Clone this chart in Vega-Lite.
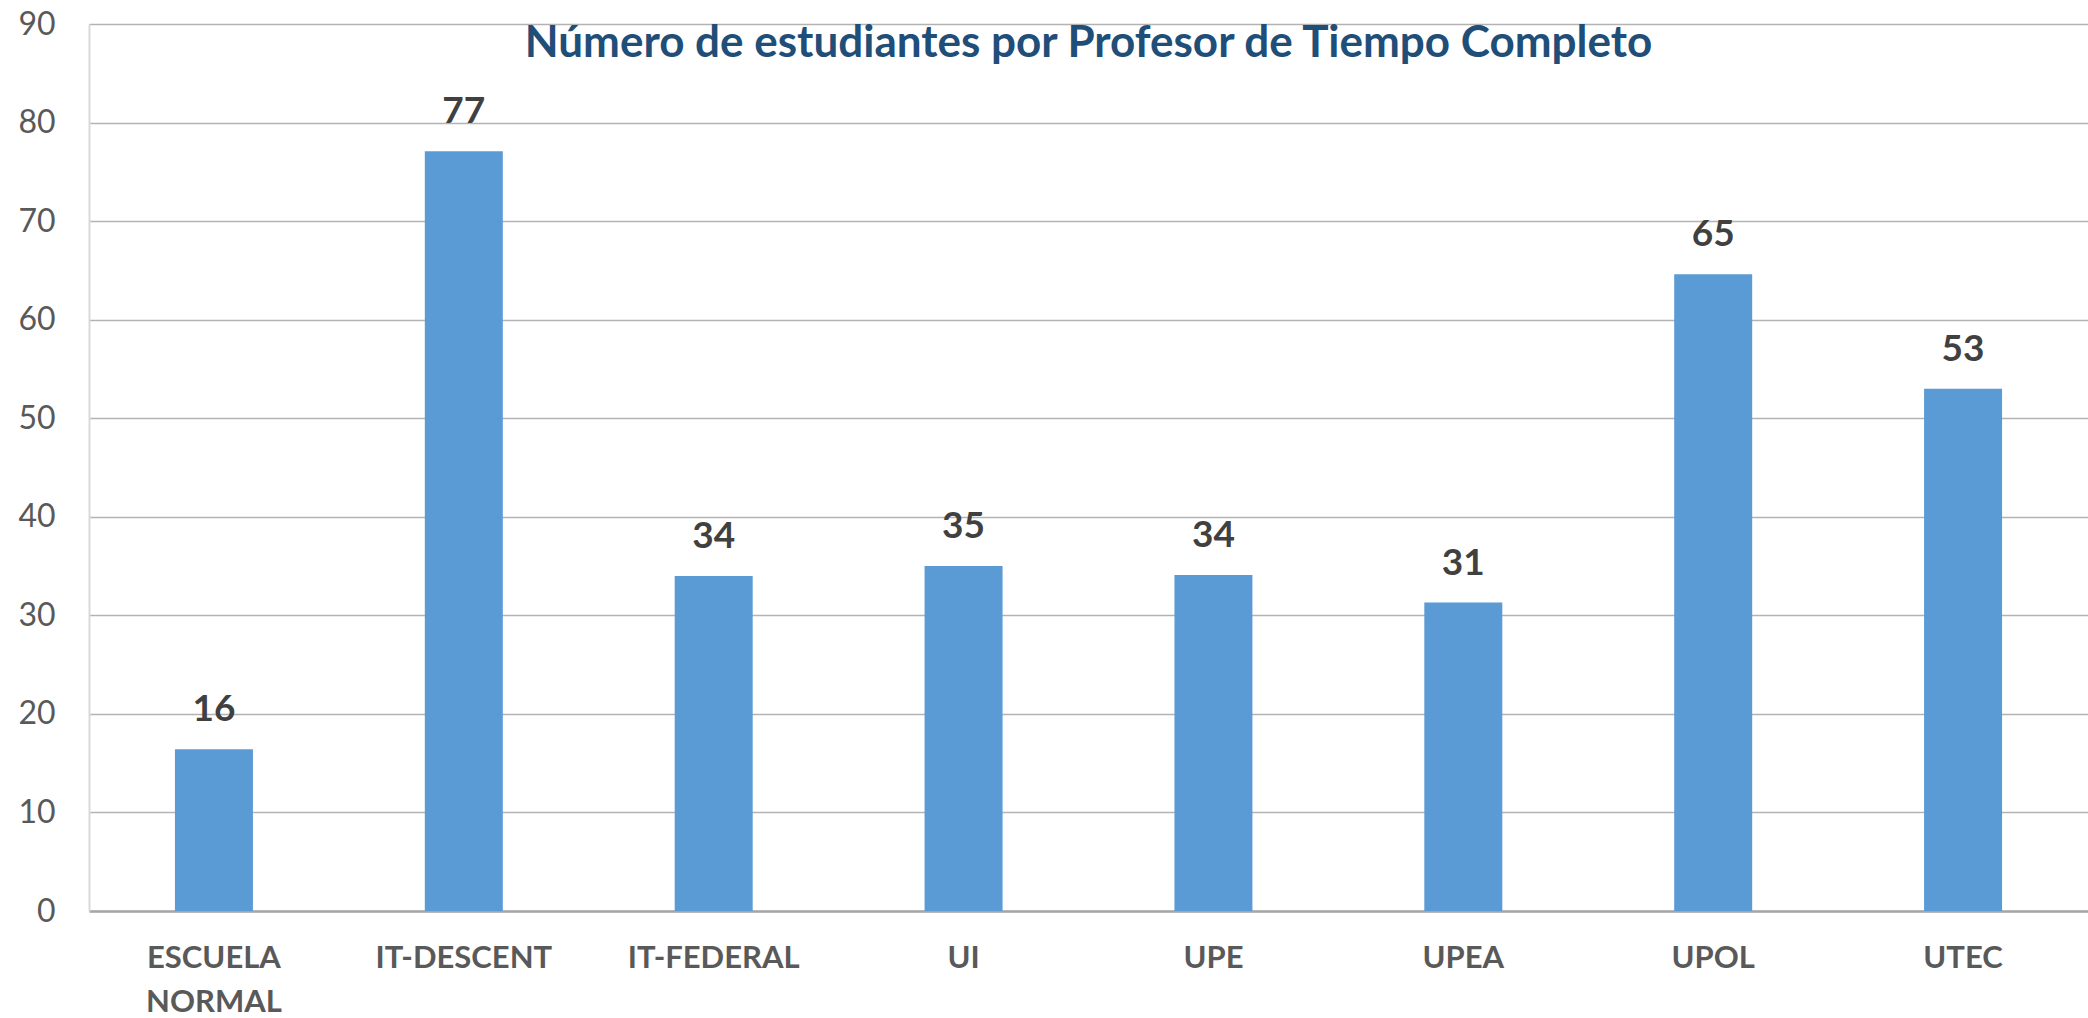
{
  "$schema": "https://vega.github.io/schema/vega-lite/v6.json",
  "autosize": "none",
  "width": 1999,
  "height": 887,
  "padding": {"left": 89, "top": 24, "right": 0, "bottom": 107},
  "background": "white",
  "title": {
    "text": "Número de estudiantes por Profesor de Tiempo Completo",
    "anchor": "middle",
    "frame": "group",
    "font": "Lato",
    "fontSize": 44,
    "fontWeight": "bold",
    "color": "#1F4E79",
    "baseline": "middle",
    "offset": -80
  },
  "data": {
    "values": [
      {"institucion": "ESCUELA NORMAL", "valor": 16.4},
      {"institucion": "IT-DESCENT", "valor": 77.1},
      {"institucion": "IT-FEDERAL", "valor": 34.0},
      {"institucion": "UI", "valor": 35.0},
      {"institucion": "UPE", "valor": 34.1},
      {"institucion": "UPEA", "valor": 31.3},
      {"institucion": "UPOL", "valor": 64.6},
      {"institucion": "UTEC", "valor": 53.0}
    ]
  },
  "encoding": {
    "x": {
      "field": "institucion",
      "type": "nominal",
      "sort": null,
      "scale": {"paddingInner": 0, "paddingOuter": 0},
      "axis": {
        "title": null,
        "labelAngle": 0,
        "labelFont": "Lato",
        "labelFontSize": 31,
        "labelFontWeight": "bold",
        "labelColor": "#595959",
        "labelPadding": 32,
        "labelLineHeight": 44,
        "labelExpr": "datum.label == 'ESCUELA NORMAL' ? ['ESCUELA', 'NORMAL'] : datum.label",
        "ticks": false,
        "domainColor": "#a6a6a6",
        "domainWidth": 2.5,
        "grid": false
      }
    },
    "y": {
      "field": "valor",
      "type": "quantitative",
      "scale": {"domain": [0, 90], "nice": false},
      "axis": {
        "title": null,
        "values": [0, 10, 20, 30, 40, 50, 60, 70, 80, 90],
        "labelFont": "Lato",
        "labelFontSize": 32,
        "labelColor": "#595959",
        "labelPadding": 34,
        "ticks": false,
        "domainColor": "#d9d9d9",
        "domainWidth": 2,
        "grid": true,
        "gridColor": "#b3b3b3",
        "gridWidth": 1.5
      }
    }
  },
  "layer": [
    {
      "mark": {"type": "bar", "width": 78, "color": "#5B9BD5"}
    },
    {
      "mark": {
        "type": "text",
        "baseline": "bottom",
        "dy": -20,
        "font": "Lato",
        "fontSize": 37,
        "fontWeight": "bold",
        "color": "#404040"
      },
      "encoding": {
        "text": {"field": "valor", "type": "quantitative", "format": ".0f"}
      }
    }
  ],
  "config": {"view": {"stroke": null}}
}
